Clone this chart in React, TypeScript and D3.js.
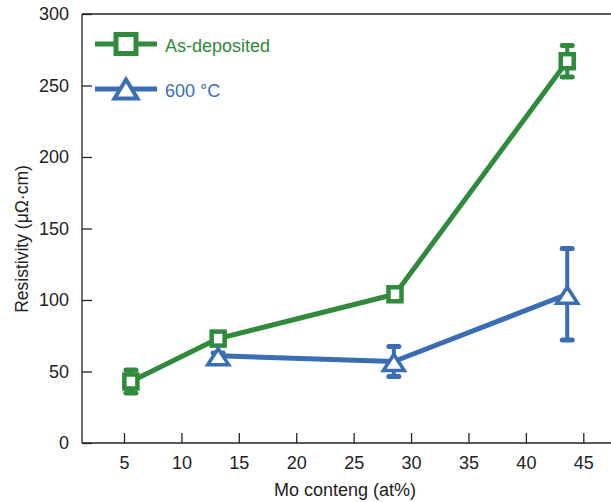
import React, { useEffect, useRef } from 'react';
import * as d3 from "d3";

// Chart data
const moContent = [5.6, 13.2, 28.6, 43.6];
const asDeposited = [43, 73, 104, 267];
const asDepositedErr = [8, 3, 3, 11];

const moContent600 = [13.2, 28.5, 43.6];
const annealed600 = [61, 57, 104];
const annealed600Err = [2, 10.5, 32];

const xTicks = [5, 10, 15, 20, 25, 30, 35, 40, 45];
const yTicks = [0, 50, 100, 150, 200, 250, 300];

const seriesNames = ["As-deposited", "600 °C"];
const seriesColors = ["#2f8a3b", "#3b6db5"];

// Sizes and layout
const width = 611;
const height = 502;
const plot = { left: 82, top: 14, right: 640, bottom: 443 };
const font = "'Liberation Sans', Arial, sans-serif";

function App() {
    const chartElement = useRef<SVGSVGElement>(null);

    useEffect(() => {
        const xScale = d3.scaleLinear().domain([5, 45]).range([124, 583.3]);
        const yScale = d3.scaleLinear().domain([0, 300]).range([plot.bottom, plot.top]);

        const svg = d3.select(chartElement.current)
            .html("")
            .attr("width", width)
            .attr("height", height)
            .style("font-family", font);

        // Frame lines: left, bottom, top
        const frame = svg.append("g").attr("stroke", "#222").attr("stroke-width", 1.3);
        frame.append("line").attr("x1", plot.left).attr("x2", plot.left).attr("y1", plot.top).attr("y2", plot.bottom);
        frame.append("line").attr("x1", plot.left).attr("x2", plot.right).attr("y1", plot.bottom).attr("y2", plot.bottom);
        frame.append("line").attr("x1", plot.left).attr("x2", plot.right).attr("y1", plot.top).attr("y2", plot.top);

        // X axis with inward ticks
        const xAxis = svg.append("g")
            .attr("transform", "translate(0," + plot.bottom + ")")
            .call(d3.axisBottom(xScale).tickValues(xTicks).tickSizeInner(-10).tickSizeOuter(0).tickPadding(13));
        xAxis.select(".domain").remove();
        xAxis.selectAll("line").attr("stroke", "#222").attr("stroke-width", 1.3);
        xAxis.selectAll("text").attr("fill", "#222").style("font-size", "18px").style("font-family", font);

        // Y axis with inward ticks
        const yAxis = svg.append("g")
            .attr("transform", "translate(" + plot.left + ",0)")
            .call(d3.axisLeft(yScale).tickValues(yTicks).tickSizeInner(-10).tickSizeOuter(0).tickPadding(13));
        yAxis.select(".domain").remove();
        yAxis.selectAll("line").attr("stroke", "#222").attr("stroke-width", 1.3);
        yAxis.selectAll("text").attr("fill", "#222").style("font-size", "18px").style("font-family", font);

        // Axis titles
        svg.append("text")
            .attr("x", 345)
            .attr("y", 496)
            .attr("text-anchor", "middle")
            .attr("fill", "#222")
            .style("font-size", "18px")
            .text("Mo conteng (at%)");

        svg.append("text")
            .attr("transform", "translate(28,239) rotate(-90)")
            .attr("text-anchor", "middle")
            .attr("fill", "#222")
            .style("font-size", "17.5px")
            .text("Resistivity (μΩ·cm)");

        const line = d3.line<[number, number]>()
            .x((d) => xScale(d[0]))
            .y((d) => yScale(d[1]));

        const triangle = (cx: number, cy: number, w: number, h: number) =>
            `M${cx},${cy - h / 2}L${cx + w / 2},${cy + h / 2}L${cx - w / 2},${cy + h / 2}Z`;

        function drawSeries(xs: number[], ys: number[], errs: number[], color: string, marker: string) {
            const pts = xs.map((x, i) => [x, ys[i]] as [number, number]);
            const g = svg.append("g");
            g.append("path")
                .datum(pts)
                .attr("fill", "none")
                .attr("stroke", color)
                .attr("stroke-width", 5)
                .attr("stroke-linejoin", "round")
                .attr("d", line);

            // Error bars
            pts.forEach((p, i) => {
                const cx = xScale(p[0]);
                const top = yScale(p[1] + errs[i]);
                const bot = yScale(p[1] - errs[i]);
                g.append("line").attr("x1", cx).attr("x2", cx).attr("y1", top).attr("y2", bot)
                    .attr("stroke", color).attr("stroke-width", 4);
                [top, bot].forEach((y) => {
                    g.append("line").attr("x1", cx - 5).attr("x2", cx + 5).attr("y1", y).attr("y2", y)
                        .attr("stroke", color).attr("stroke-width", 5).attr("stroke-linecap", "round");
                });
            });

            // Markers
            pts.forEach((p) => {
                const cx = xScale(p[0]);
                const cy = yScale(p[1]);
                if (marker === "square") {
                    g.append("rect").attr("x", cx - 6.5).attr("y", cy - 7).attr("width", 13).attr("height", 14)
                        .attr("fill", "white").attr("stroke", color).attr("stroke-width", 4.5);
                } else {
                    g.append("path").attr("d", triangle(cx, cy + 1, 21, 16))
                        .attr("fill", "white").attr("stroke", color).attr("stroke-width", 3.5)
                        .attr("stroke-linejoin", "miter");
                }
            });
        }

        drawSeries(moContent, asDeposited, asDepositedErr, seriesColors[0], "square");
        drawSeries(moContent600, annealed600, annealed600Err, seriesColors[1], "triangle");

        // Legend
        const legend = svg.append("g");
        seriesNames.forEach((name, i) => {
            const y = 44 + i * 45;
            const color = seriesColors[i];
            legend.append("line").attr("x1", 95).attr("x2", 157).attr("y1", y).attr("y2", y)
                .attr("stroke", color).attr("stroke-width", 5);
            if (i === 0) {
                legend.append("rect").attr("x", 116).attr("y", y - 9.5).attr("width", 20).attr("height", 19)
                    .attr("fill", "white").attr("stroke", color).attr("stroke-width", 5);
            } else {
                legend.append("path").attr("d", triangle(126, y, 23, 19))
                    .attr("fill", "white").attr("stroke", color).attr("stroke-width", 4);
            }
            legend.append("text")
                .attr("x", 165)
                .attr("y", y + 8)
                .attr("fill", color)
                .style("font-size", "18px")
                .text(name);
        });
    }, []);

    return <svg ref={chartElement} style={{ position: "absolute", left: 0, top: 0 }}></svg>;
}

export default App;
